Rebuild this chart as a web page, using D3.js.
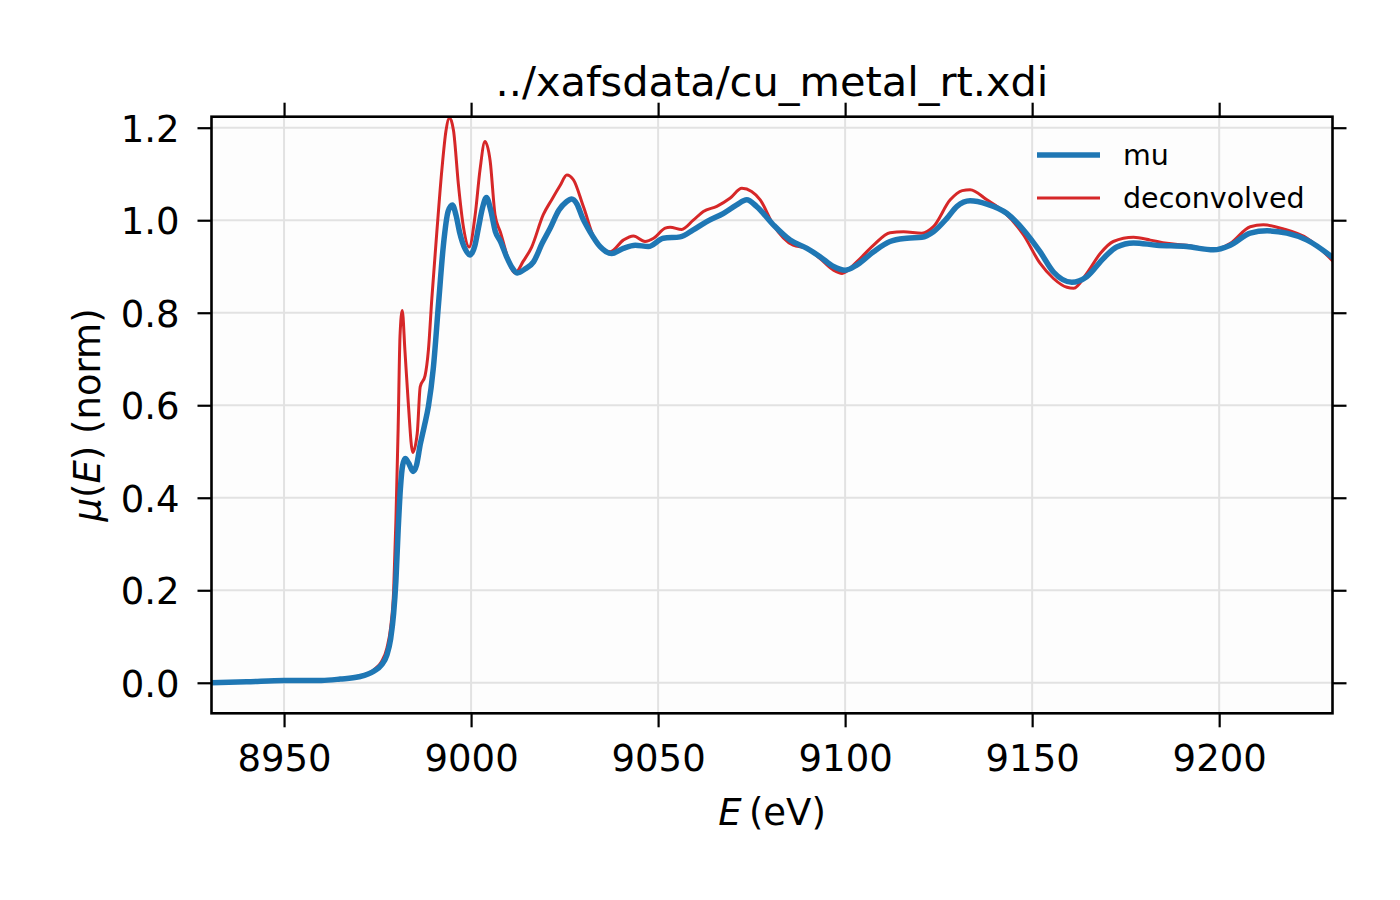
<!DOCTYPE html>
<html>
<head>
<meta charset="utf-8">
<script src="https://cdn.jsdelivr.net/npm/d3@7"></script>
<style>
  html, body { margin: 0; padding: 0; background: #ffffff; }
  svg { display: block; font-family: "DejaVu Sans", sans-serif; }
</style>
</head>
<body>
<svg id="chart" width="1400" height="900"></svg>
<script>
// ---- data ----
const title = "../xafsdata/cu_metal_rt.xdi";
const seriesNames = ["mu", "deconvolved"];
const xTicks = [8950, 9000, 9050, 9100, 9150, 9200];
const yTicks = [0.0, 0.2, 0.4, 0.6, 0.8, 1.0, 1.2];

const muE = [8930, 8940, 8950, 8960, 8965, 8970, 8974, 8976, 8977.5, 8978.5, 8979.3, 8979.9, 8980.5, 8981.1, 8981.7, 8982.4, 8983.3, 8984.5, 8985.4, 8986.4, 8987.5, 8988.6, 8989.9, 8991.3, 8992.6, 8993.9, 8995.0, 8996.0, 8996.9, 8998.4, 8999.7, 9001.0, 9002.0, 9003.0, 9004.1, 9005.3, 9006.5, 9007.8, 9009.5, 9011.0, 9012.4, 9014.5, 9016.7, 9019.0, 9021.1, 9023.5, 9025.5, 9026.9, 9028.3, 9029.8, 9031.8, 9034.5, 9037.6, 9040.7, 9043.9, 9047.4, 9051.4, 9055.9, 9059.4, 9063, 9067.5, 9071, 9073.7, 9076.3, 9080.8, 9085.3, 9089.8, 9093.3, 9096.9, 9100, 9103.1, 9107.6, 9112, 9116.5, 9120.5, 9123.6, 9127.2, 9129.9, 9133.4, 9137.9, 9143.2, 9147.7, 9152.1, 9155.7, 9160.6, 9164.6, 9169.1, 9172.6, 9177.1, 9183.3, 9191.3, 9198.5, 9203, 9208.3, 9212.8, 9218.1, 9223.5, 9230.6];
const muV = [0.000, 0.002, 0.005, 0.005, 0.008, 0.013, 0.025, 0.038, 0.060, 0.095, 0.150, 0.220, 0.330, 0.420, 0.470, 0.485, 0.475, 0.457, 0.470, 0.515, 0.555, 0.598, 0.680, 0.820, 0.946, 1.020, 1.033, 1.010, 0.975, 0.938, 0.925, 0.945, 0.985, 1.025, 1.049, 1.020, 0.975, 0.955, 0.921, 0.897, 0.886, 0.895, 0.910, 0.950, 0.982, 1.022, 1.040, 1.046, 1.035, 1.005, 0.975, 0.943, 0.928, 0.939, 0.946, 0.943, 0.961, 0.964, 0.979, 0.997, 1.015, 1.033, 1.044, 1.030, 0.990, 0.957, 0.939, 0.921, 0.900, 0.892, 0.903, 0.932, 0.954, 0.961, 0.963, 0.975, 1.004, 1.030, 1.042, 1.035, 1.015, 0.979, 0.932, 0.888, 0.866, 0.878, 0.918, 0.942, 0.951, 0.946, 0.943, 0.936, 0.946, 0.972, 0.977, 0.972, 0.957, 0.918];

const decE = [8930, 8940, 8950, 8960, 8965, 8970, 8974, 8976, 8977.5, 8978.5, 8979.3, 8979.9, 8980.5, 8981.0, 8981.6, 8982.3, 8983.2, 8984.4, 8985.6, 8986.4, 8987.7, 8988.6, 8989.5, 8990.8, 8992.2, 8993.3, 8994.2, 8995.3, 8996.6, 8997.9, 8999.5, 9001.1, 9002.4, 9003.7, 9005.1, 9006.4, 9007.8, 9011.8, 9014, 9016.2, 9019.3, 9021.6, 9023.8, 9025.6, 9027.4, 9030, 9033.6, 9037.2, 9040.7, 9043.4, 9046.5, 9048.8, 9051.9, 9053.2, 9056.3, 9059.4, 9062.1, 9065.7, 9069.3, 9072.4, 9075, 9077.3, 9080.8, 9086.1, 9089.8, 9093.3, 9096.9, 9099.2, 9103.1, 9107.6, 9112, 9115.6, 9120.5, 9123.6, 9128.1, 9131.3, 9133.4, 9137.9, 9142.3, 9147.7, 9152.1, 9155.7, 9159.3, 9161.1, 9164.6, 9168.2, 9171.7, 9177.1, 9181.6, 9186, 9191.3, 9198.5, 9203, 9208.3, 9211.8, 9217.2, 9223.5, 9230.6];
const decV = [0.000, 0.002, 0.005, 0.005, 0.008, 0.014, 0.028, 0.045, 0.075, 0.120, 0.200, 0.350, 0.550, 0.750, 0.805, 0.720, 0.606, 0.498, 0.539, 0.640, 0.664, 0.720, 0.830, 0.970, 1.110, 1.194, 1.222, 1.194, 1.078, 0.988, 0.942, 1.012, 1.110, 1.170, 1.128, 1.012, 0.975, 0.886, 0.912, 0.942, 1.012, 1.045, 1.075, 1.098, 1.087, 1.030, 0.950, 0.932, 0.957, 0.966, 0.954, 0.961, 0.983, 0.985, 0.980, 1.000, 1.019, 1.030, 1.048, 1.069, 1.062, 1.044, 0.990, 0.946, 0.939, 0.917, 0.892, 0.885, 0.910, 0.946, 0.973, 0.975, 0.972, 0.986, 1.044, 1.064, 1.066, 1.044, 1.019, 0.968, 0.907, 0.874, 0.855, 0.853, 0.885, 0.928, 0.954, 0.963, 0.957, 0.950, 0.946, 0.936, 0.950, 0.986, 0.990, 0.981, 0.961, 0.910];

// ---- layout ----
const L = 211.5, R = 1332.5, T = 116.7, B = 713.3;
const svg = d3.select("#chart");

const x = d3.scaleLinear().domain([8930.6, 9230.3]).range([L, R]);
const y = d3.scaleLinear().domain([-0.066, 1.2238]).range([B, T]);

// background
svg.append("rect").attr("x", L).attr("y", T).attr("width", R - L).attr("height", B - T)
  .attr("fill", "#fdfdfd");

// grid
const grid = svg.append("g");
grid.selectAll("line.gx").data(xTicks).enter().append("line")
  .attr("x1", d => x(d)).attr("x2", d => x(d)).attr("y1", T).attr("y2", B)
  .attr("stroke", "#e2e2e2").attr("stroke-width", 2);
grid.selectAll("line.gy").data(yTicks).enter().append("line")
  .attr("y1", d => y(d)).attr("y2", d => y(d)).attr("x1", L).attr("x2", R)
  .attr("stroke", "#e2e2e2").attr("stroke-width", 2);

// clip
svg.append("defs").append("clipPath").attr("id", "clip")
  .append("rect").attr("x", L).attr("y", T).attr("width", R - L).attr("height", B - T);

const line = d3.line().x(d => x(d[0])).y(d => y(d[1])).curve(d3.curveMonotoneX);
const muData = muE.map((e, i) => [e, muV[i]]);
const decData = decE.map((e, i) => [e, decV[i]]);

const plot = svg.append("g").attr("clip-path", "url(#clip)");
plot.append("path").datum(decData).attr("d", line)
  .attr("fill", "none").attr("stroke", "#d62728").attr("stroke-width", 3)
  .attr("stroke-linejoin", "round");
plot.append("path").datum(muData).attr("d", line)
  .attr("fill", "none").attr("stroke", "#1f77b4").attr("stroke-width", 5.5)
  .attr("stroke-linejoin", "round");

// axes
const tickLen = 14;
const fs = 37;
const axB = svg.append("g").attr("transform", `translate(0,${B})`)
  .call(d3.axisBottom(x).tickValues(xTicks).tickFormat(d3.format("d")).tickSize(tickLen).tickPadding(17));
const axT = svg.append("g").attr("transform", `translate(0,${T})`)
  .call(d3.axisTop(x).tickValues(xTicks).tickSize(tickLen).tickFormat(""));
const axL = svg.append("g").attr("transform", `translate(${L},0)`)
  .call(d3.axisLeft(y).tickValues(yTicks).tickFormat(d3.format(".1f")).tickSize(tickLen).tickPadding(18));
const axR = svg.append("g").attr("transform", `translate(${R},0)`)
  .call(d3.axisRight(y).tickValues(yTicks).tickSize(tickLen).tickFormat(""));

[axB, axT, axL, axR].forEach(a => {
  a.select(".domain").remove();
  a.selectAll(".tick line").attr("stroke", "#000").attr("stroke-width", 2.2);
  a.selectAll(".tick text").attr("fill", "#000").style("font-size", fs + "px")
    .style("font-family", "'DejaVu Sans', sans-serif");
});
axB.selectAll(".tick text").attr("dy", "0.71em");
axL.selectAll(".tick text").attr("dy", "0.36em");

// frame
svg.append("rect").attr("x", L).attr("y", T).attr("width", R - L).attr("height", B - T)
  .attr("fill", "none").attr("stroke", "#000").attr("stroke-width", 2.6);

// title
svg.append("text").attr("x", (L + R) / 2).attr("y", 96).attr("text-anchor", "middle")
  .style("font-size", "41.5px").attr("fill", "#000").text(title);

// x label
const xl = svg.append("text").attr("x", (L + R) / 2).attr("y", 825).attr("text-anchor", "middle")
  .style("font-size", fs + "px").attr("fill", "#000");
xl.append("tspan").style("font-style", "italic").text("E");
xl.append("tspan").text("\u2009(eV)");

// y label
const yl = svg.append("text").attr("transform", `translate(100,${(T + B) / 2}) rotate(-90)`)
  .attr("text-anchor", "middle").style("font-size", fs + "px").attr("fill", "#000");
yl.append("tspan").style("font-style", "italic").text("\u03bc");
yl.append("tspan").text("(");
yl.append("tspan").style("font-style", "italic").text("E");
yl.append("tspan").text(") (norm)");

// legend
const legY = [155, 198];
const legColors = ["#1f77b4", "#d62728"];
const legW = [5.5, 3];
const leg = svg.append("g");
seriesNames.forEach((name, i) => {
  leg.append("line").attr("x1", 1037).attr("x2", 1100).attr("y1", legY[i]).attr("y2", legY[i])
    .attr("stroke", legColors[i]).attr("stroke-width", legW[i]);
  leg.append("text").attr("x", 1123).attr("y", legY[i]).attr("dy", "0.36em")
    .style("font-size", "28.5px").attr("fill", "#000").text(name);
});
</script>
</body>
</html>
